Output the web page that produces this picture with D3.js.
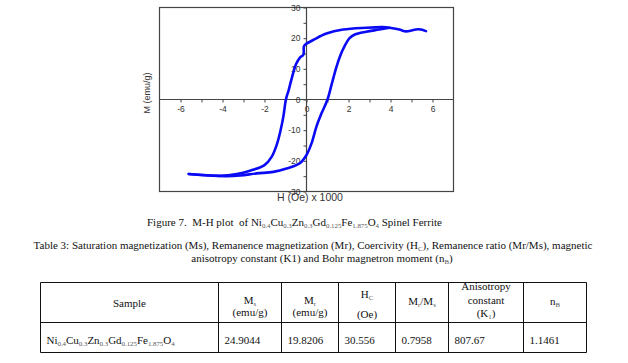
<!DOCTYPE html>
<html>
<head>
<meta charset="utf-8">
<script src="https://cdn.jsdelivr.net/npm/d3@7"></script>
<style>
  html, body { margin: 0; padding: 0; background: #fff; }
  svg { display: block; }
  text { white-space: pre; }
</style>
</head>
<body>
<svg id="chart" width="628" height="363"></svg>
<script>
// ---------- DATA ----------
// Upper (descending-field) branch of the hysteresis loop, H in kOe, M in emu/g
const upperH = [5.69, 5.45, 5.29, 5.05, 4.74, 4.42, 3.95, 3.63, 2.84, 1.74, 0.95, 0.32, 0.0, -0.1, -0.13, -0.15, -0.32, -0.5, -0.7, -0.85, -0.98, -1.1, -1.25, -1.42, -1.66, -2.0, -2.69, -3.32, -4.11, -5.06, -5.61];
const upperM = [22.3, 22.8, 22.9, 22.6, 22.2, 22.8, 23.4, 23.6, 23.4, 22.8, 21.5, 19.4, 18.2, 17.6, 17.1, 14.6, 13.6, 11.5, 7.0, 3.0, 0.0, -5.5, -10.5, -14.8, -18.7, -21.4, -23.2, -24.3, -24.9, -24.6, -24.3];
// Lower (ascending-field) branch
const lowerH = [-5.61, -4.74, -3.79, -3.16, -2.37, -1.58, -0.95, -0.32, 0.0, 0.24, 0.47, 0.71, 1.0, 1.2, 1.42, 1.62, 1.82, 2.05, 2.3, 2.84, 3.47, 3.95];
const lowerM = [-24.3, -24.7, -25.0, -24.8, -24.1, -23.6, -22.5, -20.8, -18.1, -14.3, -8.9, -4.6, 0.0, 5.0, 10.5, 14.5, 17.5, 20.0, 21.2, 22.1, 22.8, 23.4];

const xTicks = [-6, -5, -4, -3, -2, -1, 0, 1, 2, 3, 4, 5, 6];
const xTickLabels = ["-6", "", "-4", "", "-2", "", "0", "", "2", "", "4", "", "6"];
const yTicks = [-30, -25, -20, -15, -10, -5, 0, 5, 10, 15, 20, 25, 30];
const yTickLabels = ["-30", "", "-20", "", "-10", "", "0", "", "10", "", "20", "", "30"];

const xTitle = "H (Oe) x 1000";
const yTitle = "M (emu/g)";

const sampleFormula = [["Ni"], ["0.4", 1], ["Cu"], ["0.3", 1], ["Zn"], ["0.3", 1], ["Gd"], ["0.125", 1], ["Fe"], ["1.875", 1], ["O"], ["4", 1]];
const captionParts = [["Figure 7.  M-H plot  of "]].concat(sampleFormula, [[" Spinel Ferrite"]]);
const tableTitle1 = [["Table 3: Saturation magnetization (Ms), Remanence magnetization (Mr), Coercivity (H"], ["C", 1], ["), Remanence ratio (Mr/Ms), magnetic"]];
const tableTitle2 = [["anisotropy constant (K1) and Bohr magnetron moment (n"], ["B", 1], [")"]];

const headerLines = [
  [[["Sample"]]],
  [[["M"], ["s", 1]], [["(emu/g)"]]],
  [[["M"], ["r", 1]], [["(emu/g)"]]],
  [[["H"], ["C", 1]], [["(Oe)"]]],
  [[["M"], ["r", 1], ["/M"], ["s", 1]]],
  [[["Anisotropy"]], [["constant"]], [["(K"], ["1", 1], [")"]]],
  [[["n"], ["B", 1]]]
];
const rowValues = ["24.9044", "19.8206", "30.556", "0.7958", "807.67", "1.1461"];

// ---------- LAYOUT ----------
const svg = d3.select("#chart");
const plot = { left: 159.5, right: 453.5, top: 7.5, bottom: 191.5 };
const x = d3.scaleLinear().domain([-7, 7]).range([plot.left, plot.right]);
const y = d3.scaleLinear().domain([-30, 30]).range([plot.bottom, plot.top]);

const axisColor = "#444";
const sans = "'Liberation Sans', Arial, sans-serif";
const serif = "'Liberation Serif', 'Times New Roman', serif";

// Frame
svg.append("rect")
  .attr("x", plot.left).attr("y", plot.top)
  .attr("width", plot.right - plot.left).attr("height", plot.bottom - plot.top)
  .attr("fill", "none").attr("stroke", axisColor).attr("stroke-width", 1.2);

// X axis through M = 0
const xAxis = d3.axisBottom(x)
  .tickValues(xTicks)
  .tickFormat((d, i) => xTickLabels[i])
  .tickSize(3).tickSizeOuter(0).tickPadding(3);
const gx = svg.append("g").attr("transform", `translate(0,${y(0)})`).call(xAxis);
gx.select(".domain").attr("d", `M${plot.left},0H${plot.right}`);

// Y axis through H = 0
const yAxis = d3.axisLeft(y)
  .tickValues(yTicks)
  .tickFormat((d, i) => yTickLabels[i])
  .tickSize(3).tickSizeOuter(0).tickPadding(3);
const gy = svg.append("g").attr("transform", `translate(${x(0)},0)`).call(yAxis);
gy.select(".domain").attr("d", `M0,${plot.top}V${plot.bottom}`);

[gx, gy].forEach(g => {
  g.selectAll(".domain").attr("stroke", axisColor).attr("stroke-width", 1.2);
  g.selectAll(".tick line").attr("stroke", axisColor);
  g.selectAll(".tick text").attr("fill", "#333").attr("font-family", sans).attr("font-size", 8.5);
});

// Axis titles
svg.append("text")
  .attr("x", 310).attr("y", 201)
  .attr("text-anchor", "middle")
  .attr("font-family", sans).attr("font-size", 10.5).attr("fill", "#333")
  .text(xTitle);
svg.append("text")
  .attr("transform", "translate(150,93) rotate(-90)")
  .attr("text-anchor", "middle")
  .attr("font-family", sans).attr("font-size", 9).attr("fill", "#333")
  .text(yTitle);

// Loop
const line = d3.line().x(d => x(d[0])).y(d => y(d[1])).curve(d3.curveCatmullRom.alpha(0.5));
const upper = upperH.map((h, i) => [h, upperM[i]]);
const lower = lowerH.map((h, i) => [h, lowerM[i]]);
[upper, lower].forEach(pts => {
  svg.append("path")
    .attr("d", line(pts))
    .attr("fill", "none")
    .attr("stroke", "#0a0af5")
    .attr("stroke-width", 2.6)
    .attr("stroke-linejoin", "round")
    .attr("stroke-linecap", "round");
});

// ---------- TEXT HELPERS ----------
function rich(sel, parts, size, subSize) {
  let shifted = false;
  parts.forEach(p => {
    const t = sel.append("tspan").text(p[0]);
    if (p[1]) {
      t.attr("font-size", subSize).attr("fill", "#555");
      if (!shifted) { t.attr("dy", 2); shifted = true; }
    } else {
      if (shifted) { t.attr("dy", -2); shifted = false; }
    }
  });
  return sel;
}
function addText(xp, yp, parts, anchor, size) {
  const t = svg.append("text")
    .attr("x", xp).attr("y", yp)
    .attr("text-anchor", anchor)
    .attr("font-family", serif).attr("font-size", size).attr("fill", "#111");
  return rich(t, parts, size, size * 0.62);
}

// Caption & table title
addText(147, 226, captionParts, "start", 11);
addText(313, 249, tableTitle1, "middle", 11);
addText(322, 262, tableTitle2, "middle", 11);

// ---------- TABLE ----------
const colX = [40.5, 218.5, 281.5, 338.5, 395.5, 448.5, 523.5, 586.5];
const rowY = [282.5, 322.5, 352.5];
const tg = svg.append("g").attr("stroke", "#111").attr("stroke-width", 1);
rowY.forEach(v => tg.append("line").attr("x1", colX[0]).attr("x2", colX[colX.length - 1]).attr("y1", v).attr("y2", v));
colX.forEach(v => tg.append("line").attr("x1", v).attr("x2", v).attr("y1", rowY[0]).attr("y2", rowY[2]));

const headerBaselines = {
  1: [307],
  2: [304, 316],
  3: [298, 317.5],
  4: [305]
};
const anisoBase = [290, 303.5, 316.5];
headerLines.forEach((lines, c) => {
  const cx = (colX[c] + colX[c + 1]) / 2;
  let bases;
  if (c === 5) bases = anisoBase;
  else if (c === 3) bases = headerBaselines[3];
  else if (lines.length === 2) bases = headerBaselines[2];
  else bases = (c === 0) ? headerBaselines[1] : headerBaselines[4];
  lines.forEach((ln, k) => addText(cx, bases[k], ln, "middle", 11));
});

addText(colX[0] + 6, 344, sampleFormula, "start", 11);
rowValues.forEach((v, i) => addText(colX[i + 1] + 6, 344, [[v]], "start", 11));
</script>
</body>
</html>
